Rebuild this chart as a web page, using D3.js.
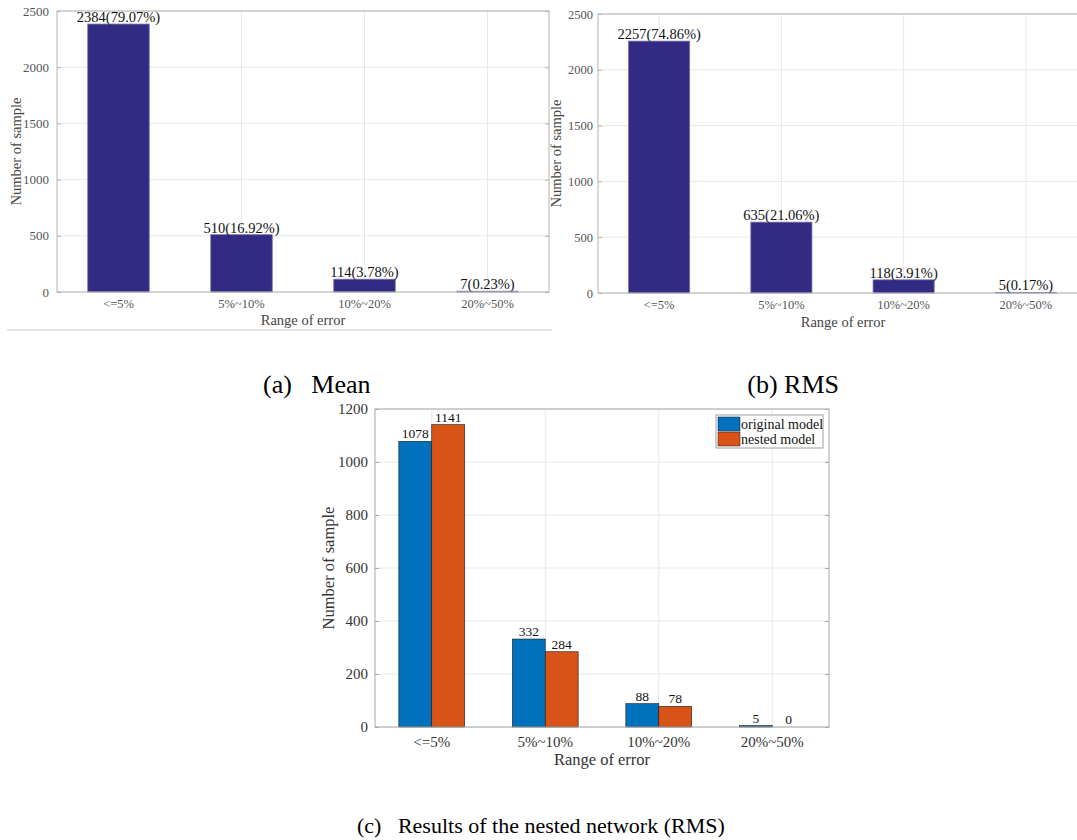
<!DOCTYPE html>
<html>
<head>
<meta charset="utf-8">
<script src="https://cdn.jsdelivr.net/npm/d3@7"></script>
<style>
  html, body { margin: 0; padding: 0; background: #fff; }
  svg, svg text { font-family: "Liberation Serif", "Times New Roman", serif; }
  svg { display: block; }
</style>
</head>
<body>
<svg id="fig" width="1077" height="840"></svg>
<script>
// ---------- data ----------
const categories = ["<=5%", "5%~10%", "10%~20%", "20%~50%"];
const meanCounts = [2384, 510, 114, 7];
const meanPercents = ["79.07%", "16.92%", "3.78%", "0.23%"];
const rmsCounts = [2257, 635, 118, 5];
const rmsPercents = ["74.86%", "21.06%", "3.91%", "0.17%"];
const originalModel = [1078, 332, 88, 5];
const nestedModel = [1141, 284, 78, 0];
const seriesNames = ["original model", "nested model"];
const ticksAB = [0, 500, 1000, 1500, 2000, 2500];
const ticksC = [0, 200, 400, 600, 800, 1000, 1200];
const xTitle = "Range of error";
const yTitle = "Number of sample";
const captions = ["(a)   Mean", "(b) RMS", "(c)   Results of the nested network (RMS)"];

const svg = d3.select("#fig");
const gridColor = "#e8e8e8";
const boxColor = "#b4b4b4";
const SERIF = "Liberation Serif, Times New Roman, serif";

function styleAxis(sel) {
  sel.attr("font-family", SERIF);
  sel.selectAll("text").attr("font-family", SERIF);
}

function singleChart(cfg) {
  const { x0, x1, y0, y1, counts, pcts, ymax, ticks, ylabX, tickFont, catFont, titleFont, valFont, tickPad } = cfg;
  const g = svg.append("g");
  const x = d3.scaleBand().domain(categories).range([x0, x1]).paddingInner(0.5).paddingOuter(0.25);
  const y = d3.scaleLinear().domain([0, ymax]).range([y1, y0]);

  g.selectAll(".hg").data(ticks).join("line")
    .attr("x1", x0).attr("x2", x1).attr("y1", d => y(d)).attr("y2", d => y(d))
    .attr("stroke", gridColor).attr("stroke-width", 1);
  g.selectAll(".vg").data(categories).join("line")
    .attr("x1", d => x(d) + x.bandwidth() / 2).attr("x2", d => x(d) + x.bandwidth() / 2)
    .attr("y1", y0).attr("y2", y1)
    .attr("stroke", gridColor).attr("stroke-width", 1);

  g.selectAll(".bar").data(counts).join("rect")
    .attr("x", (d, i) => x(categories[i]))
    .attr("width", x.bandwidth())
    .attr("y", d => y(d))
    .attr("height", d => y1 - y(d))
    .attr("fill", "#332a84")
    .attr("stroke", "#7a78a8").attr("stroke-width", 0.8);

  g.selectAll(".val").data(counts).join("text")
    .attr("x", (d, i) => x(categories[i]) + x.bandwidth() / 2)
    .attr("y", d => y(d) - 2)
    .attr("text-anchor", "middle")
    .attr("font-size", valFont)
    .attr("fill", "#111")
    .text((d, i) => d + "(" + pcts[i] + ")");

  g.append("rect").attr("x", x0).attr("y", y0).attr("width", x1 - x0).attr("height", y1 - y0)
    .attr("fill", "none").attr("stroke", boxColor).attr("stroke-width", 1);

  const yAxis = d3.axisLeft(y).tickValues(ticks).tickFormat(d3.format("d"))
    .tickSizeInner(-4).tickSizeOuter(0).tickPadding(tickPad);
  const ya = g.append("g").attr("transform", `translate(${x0},0)`).call(yAxis);
  ya.select(".domain").remove();
  ya.selectAll("line").attr("stroke", boxColor);
  styleAxis(ya);
  ya.selectAll("text").attr("font-size", tickFont).attr("fill", "#555");
  const yr = g.append("g").attr("transform", `translate(${x1},0)`)
    .call(d3.axisRight(y).tickValues(ticks).tickSizeInner(-4).tickSizeOuter(0).tickFormat(""));
  yr.select(".domain").remove();
  yr.selectAll("line").attr("stroke", boxColor);

  const xa = g.append("g").attr("transform", `translate(0,${y1})`)
    .call(d3.axisBottom(x).tickSizeInner(0).tickSizeOuter(0).tickPadding(7));
  xa.select(".domain").remove();
  styleAxis(xa);
  xa.selectAll("text").attr("font-size", catFont).attr("fill", "#555");

  g.append("text").attr("x", cfg.xTitleX).attr("y", cfg.xTitleY)
    .attr("text-anchor", "middle").attr("font-size", titleFont).attr("fill", "#444").text(xTitle);
  g.append("text").attr("transform", `translate(${ylabX},${(y0 + y1) / 2}) rotate(-90)`)
    .attr("text-anchor", "middle").attr("font-size", titleFont).attr("fill", "#444").text(yTitle);
}

singleChart({ x0: 57, x1: 549, y0: 11, y1: 292, counts: meanCounts, pcts: meanPercents, ymax: 2500, ticks: ticksAB,
  ylabX: 21, tickFont: 13, catFont: 12.5, titleFont: 14.5, valFont: 14.5, tickPad: 8, xTitleX: 303, xTitleY: 325 });
singleChart({ x0: 598, x1: 1087, y0: 14, y1: 293, counts: rmsCounts, pcts: rmsPercents, ymax: 2500, ticks: ticksAB,
  ylabX: 561, tickFont: 12.5, catFont: 12.5, titleFont: 14.5, valFont: 14.5, tickPad: 5, xTitleX: 843, xTitleY: 327 });

svg.append("line").attr("x1", 7).attr("x2", 552).attr("y1", 330).attr("y2", 330)
  .attr("stroke", "#c8c8c8").attr("stroke-width", 1);

// ---------- chart (c) ----------
(function () {
  const x0 = 375, x1 = 829, y0 = 409, y1 = 727;
  const g = svg.append("g");
  const x = d3.scaleBand().domain(categories).range([x0, x1]).paddingInner(0.42).paddingOuter(0.21);
  const xs = d3.scaleBand().domain(seriesNames).range([0, x.bandwidth()]);
  const y = d3.scaleLinear().domain([0, 1200]).range([y1, y0]);
  const colors = ["#0072BD", "#D95319"];
  const series = [originalModel, nestedModel];

  g.selectAll(".hg").data(ticksC).join("line")
    .attr("x1", x0).attr("x2", x1).attr("y1", d => y(d)).attr("y2", d => y(d))
    .attr("stroke", gridColor);
  g.selectAll(".vg").data(categories).join("line")
    .attr("x1", d => x(d) + x.bandwidth() / 2).attr("x2", d => x(d) + x.bandwidth() / 2)
    .attr("y1", y0).attr("y2", y1).attr("stroke", gridColor);

  series.forEach((vals, s) => {
    g.selectAll(".b" + s).data(vals).join("rect")
      .attr("x", (d, i) => x(categories[i]) + xs(seriesNames[s]))
      .attr("width", xs.bandwidth())
      .attr("y", d => y(d))
      .attr("height", d => y1 - y(d))
      .attr("fill", colors[s])
      .attr("stroke", d => d > 0 ? "#1a1a1a" : "none").attr("stroke-width", 0.6);
    g.selectAll(".t" + s).data(vals).join("text")
      .attr("x", (d, i) => x(categories[i]) + xs(seriesNames[s]) + xs.bandwidth() / 2)
      .attr("y", d => y(d) - 3)
      .attr("text-anchor", "middle").attr("font-size", 13.5).attr("fill", "#111")
      .text(d => d);
  });

  g.append("rect").attr("x", x0).attr("y", y0).attr("width", x1 - x0).attr("height", y1 - y0)
    .attr("fill", "none").attr("stroke", "#a8a8a8");

  const ya = g.append("g").attr("transform", `translate(${x0},0)`)
    .call(d3.axisLeft(y).tickValues(ticksC).tickFormat(d3.format("d"))
      .tickSizeInner(-4).tickSizeOuter(0).tickPadding(7));
  ya.select(".domain").remove();
  ya.selectAll("line").attr("stroke", "#a8a8a8");
  styleAxis(ya);
  ya.selectAll("text").attr("font-size", 15).attr("fill", "#333");
  const yr = g.append("g").attr("transform", `translate(${x1},0)`)
    .call(d3.axisRight(y).tickValues(ticksC).tickSizeInner(-4).tickSizeOuter(0).tickFormat(""));
  yr.select(".domain").remove();
  yr.selectAll("line").attr("stroke", "#a8a8a8");

  const xa = g.append("g").attr("transform", `translate(0,${y1})`)
    .call(d3.axisBottom(x).tickSizeInner(0).tickSizeOuter(0).tickPadding(9));
  xa.select(".domain").remove();
  styleAxis(xa);
  xa.selectAll("text").attr("font-size", 15).attr("fill", "#333");

  g.append("text").attr("x", 602).attr("y", 765).attr("text-anchor", "middle")
    .attr("font-size", 16.5).attr("fill", "#333").text(xTitle);
  g.append("text").attr("transform", `translate(334,${(y0 + y1) / 2}) rotate(-90)`)
    .attr("text-anchor", "middle").attr("font-size", 16.5).attr("fill", "#333").text(yTitle);

  const lg = g.append("g");
  lg.append("rect").attr("x", 716).attr("y", 415).attr("width", 107).attr("height", 33)
    .attr("fill", "#fff").attr("stroke", "#888").attr("stroke-width", 0.8);
  seriesNames.forEach((n, i) => {
    lg.append("rect").attr("x", 718).attr("y", 417 + i * 15).attr("width", 22).attr("height", 14)
      .attr("fill", colors[i]).attr("stroke", "#1a1a1a").attr("stroke-width", 0.5);
    lg.append("text").attr("x", 741).attr("y", 428.5 + i * 15).attr("font-size", 14).attr("fill", "#111").text(n);
  });
})();

// ---------- captions ----------
svg.append("text").attr("x", 263).attr("y", 393).attr("font-size", 26).attr("fill", "#000")
  .style("white-space", "pre").text(captions[0]);
svg.append("text").attr("x", 839).attr("y", 393).attr("text-anchor", "end").attr("font-size", 26).attr("fill", "#000")
  .text(captions[1]);
svg.append("text").attr("x", 357).attr("y", 833).attr("font-size", 22).attr("fill", "#000")
  .style("white-space", "pre").text(captions[2]);
</script>
</body>
</html>
